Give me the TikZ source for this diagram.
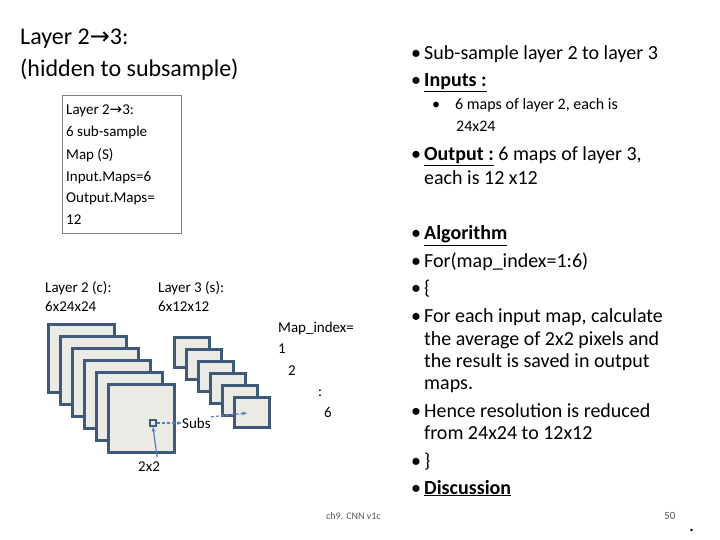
\documentclass[tikz,border=0pt]{standalone}
\usepackage{fontspec}
\setmainfont{Carlito}
\newfontfamily\dvs{DejaVu Sans}
\usetikzlibrary{arrows.meta}
\definecolor{mapfill}{HTML}{ECEAE4}
\definecolor{mapedge}{HTML}{3E5A7A}
\definecolor{arr}{HTML}{4F81BD}
\tikzset{
 txt/.style={anchor=base west,inner sep=0pt,font=\fontsize{#1}{#1}\selectfont},
 bigmap/.style={draw=mapedge,line width=2.6pt,fill=mapfill,minimum width=66pt,minimum height=68pt,inner sep=0pt,anchor=north west},
 smallmap/.style={draw=mapedge,line width=2.6pt,fill=mapfill,minimum width=35pt,minimum height=30pt,inner sep=0pt,anchor=north west},
 darr/.style={arr,densely dashed,line width=1.2pt,-{Stealth[length=5pt]}},
}
\newcommand{\ar}{{\dvs\char"2192}}
\begin{document}
\begin{tikzpicture}[x=1pt,y=-1pt]
\useasboundingbox (0,0) rectangle (720,540);
\fill[white] (0,0) rectangle (720,540);
% title
\node[txt=24] (t1) at (20,45) {Layer 2\ar3:};
\node[txt=24] (t2) at (20,77) {(hidden to subsample)};
% box
\node[draw=gray,line width=0.6pt,minimum width=119pt,minimum height=138pt,anchor=north west,inner sep=0pt] (box) at (62,95) {};
\foreach \s/\y in {{Layer 2\ar3:}/115,{6 sub-sample}/137,{Map (S)}/160,{Input.Maps=6}/182,{Output.Maps=}/203,{12}/225}
  \node[txt=15] at (66,\y) {\s};
% layer labels
\node[txt=15] (l2a) at (45,292) {Layer 2 (c):};
\node[txt=15] (l2b) at (45,311) {6x24x24};
\node[txt=15] (l3a) at (158,292) {Layer 3 (s):};
\node[txt=15] (l3b) at (158,311) {6x12x12};
% maps
\foreach \i in {0,...,5} \node[bigmap] (b\i) at (47+12*\i,323+12*\i) {};
\foreach \i in {0,...,5} \node[smallmap] (s\i) at (173+12*\i,336+12*\i) {};
\node[draw=mapedge,line width=1.6pt,fill=mapfill,minimum size=6pt,inner sep=0pt] (px) at (153,423) {};
\node[txt=15] (subs) at (182,428) {Subs};
\node[txt=15] (two) at (138,471) {2x2};
\coordinate (tgt) at (247,413);
\draw[darr] (px) -- (subs.west|-px);
\draw[darr] (subs.east) ++(0,-6) coordinate (se) (se) -- (tgt);
\draw[arr,line width=1.2pt,-{Stealth[length=5pt]}] (two.north)++(8,-4) coordinate (tn) (tn) -- (px.south);
% map index
\node[txt=15] (m1) at (278,332) {Map\_index=};
\node[txt=15] (m2) at (278,353) {1};
\node[txt=15] (m3) at (288,375) {2};
\node[txt=15] (m4) at (318,396) {:};
\node[txt=15] (m5) at (324,417) {6};
% right column
\newcommand{\bl}[4]{\node[txt=#1] at (#2,#3) {\textbullet}; \node[txt=#1] at (#2+13,#3) {#4};}
\bl{20}{411}{60}{Sub-sample layer 2 to layer 3}
\bl{20}{411}{87}{\textbf{\underline{Inputs :}}}
\bl{16}{432}{110}{\hspace{10pt}6 maps of layer 2, each is}
\node[txt=16] at (456,132) {24x24};
\bl{20}{411}{161}{\textbf{\underline{Output :}} 6 maps of layer 3,}
\node[txt=20] at (424,185) {each is 12 x12};
\bl{20}{411}{240}{\textbf{\underline{Algorithm}}}
\bl{20}{411}{267}{For(map\_index=1:6)}
\bl{20}{411}{294}{\{}
\bl{20}{411}{322}{For each input map, calculate}
\node[txt=20] at (424,345) {the average of 2x2 pixels and};
\node[txt=20] at (424,367) {the result is saved in output};
\node[txt=20] at (424,389) {maps.};
\bl{20}{411}{417}{Hence resolution is reduced}
\node[txt=20] at (424,439) {from 24x24 to 12x12};
\bl{20}{411}{467}{\}}
\bl{20}{411}{494}{\textbf{\underline{Discussion}}}
% footer
\node[txt=10,text=gray!70!black] (ft) at (326,519) {ch9. CNN v1c};
\node[txt=11,text=gray!70!black] (pg) at (664,519) {50};
\node[txt=20] (dot) at (689,531) {.};
\end{tikzpicture}
\end{document}
